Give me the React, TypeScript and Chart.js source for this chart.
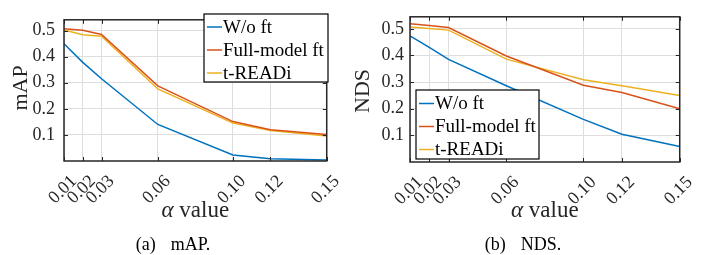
import React, { useEffect, useRef } from "react";
import { Chart, registerables } from "chart.js";

Chart.register(...registerables);

// ---------- data ----------
const alphaValues = [0.01, 0.02, 0.03, 0.06, 0.1, 0.12, 0.15];
const alphaTickLabels = ["0.01", "0.02", "0.03", "0.06", "0.10", "0.12", "0.15"];
const yTickValues = [0.1, 0.2, 0.3, 0.4, 0.5];
const yTickLabels = ["0.1", "0.2", "0.3", "0.4", "0.5"];
const seriesNames = ["W/o ft", "Full-model ft", "t-READi"];

const mapWoFt = [0.449, 0.378, 0.315, 0.14, 0.023, 0.009, 0.004];
const mapFullModel = [0.507, 0.501, 0.485, 0.288, 0.151, 0.12, 0.102];
const mapTReadi = [0.502, 0.484, 0.478, 0.276, 0.145, 0.117, 0.096];

const ndsWoFt = [0.473, 0.43, 0.385, 0.286, 0.16, 0.104, 0.058];
const ndsFullModel = [0.519, 0.512, 0.505, 0.398, 0.288, 0.261, 0.2];
const ndsTReadi = [0.507, 0.501, 0.495, 0.386, 0.309, 0.286, 0.25];

// ---------- style ----------
const COLORS = ["#0072BD", "#D95319", "#EDB120"];
const FONT = "'Liberation Serif', 'Times New Roman', serif";
const AXIS = "#262626";
const GRID = "#dedede";

type Panel = {
  left: number;
  width: number;
  height: number;
  area: { left: number; right: number; top: number; bottom: number };
  yMax: number;
  yTitle: string;
  yTitleX: number;
  yTitleY: number;
  yTickPad: number;
  legend: { x: number; y: number; w: number; h: number; rows: number[] };
  captionLabel: string;
  captionText: string;
  captionCenter: number;
  series: number[][];
};

const panels: Panel[] = [
  {
    left: 0,
    width: 352,
    height: 255,
    area: { left: 64, right: 335, top: 13, bottom: 161 },
    yMax: 0.541,
    yTitle: "mAP",
    yTitleX: 21,
    yTitleY: 88,
    yTickPad: 9,
    legend: { x: 204, y: 14, w: 124, h: 68, rows: [27, 50, 73] },
    captionLabel: "(a)",
    captionText: "mAP.",
    captionCenter: 173,
    series: [mapWoFt, mapFullModel, mapTReadi],
  },
  {
    left: 352,
    width: 353,
    height: 255,
    area: { left: 58, right: 328, top: 13, bottom: 162 },
    yMax: 0.545,
    yTitle: "NDS",
    yTitleX: 11,
    yTitleY: 91,
    yTickPad: 6,
    legend: { x: 64, y: 90, w: 123, h: 69, rows: [103.5, 126.5, 149.5] },
    captionLabel: "(b)",
    captionText: "NDS.",
    captionCenter: 171,
    series: [ndsWoFt, ndsFullModel, ndsTReadi],
  },
];

const matlabPlugin = {
  id: "matlab",
  afterDraw(chart: any, _args: any, opts: any) {
    const p: Panel = opts.panel;
    const { ctx, chartArea: a } = chart;
    const xs = chart.scales.x;
    const ys = chart.scales.y;
    ctx.save();

    const line = (x1: number, y1: number, x2: number, y2: number) => {
      ctx.beginPath();
      ctx.moveTo(x1, y1);
      ctx.lineTo(x2, y2);
      ctx.stroke();
    };

    // inside tick marks
    ctx.strokeStyle = AXIS;
    ctx.lineWidth = 1;
    const tl = 4;
    for (const v of alphaValues) {
      const px = Math.round(xs.getPixelForValue(v)) + 0.5;
      line(px, a.bottom, px, a.bottom - tl);
      line(px, a.top, px, a.top + tl);
    }
    for (const v of yTickValues) {
      const py = Math.round(ys.getPixelForValue(v)) + 0.5;
      line(a.left, py, a.left + tl, py);
      line(a.right, py, a.right - tl, py);
    }

    // box
    ctx.lineWidth = 1.5;
    ctx.strokeRect(a.left, a.top, a.right - a.left, a.bottom - a.top);

    // legend
    const L = p.legend;
    ctx.fillStyle = "#ffffff";
    ctx.fillRect(L.x, L.y, L.w, L.h);
    ctx.strokeStyle = "#000000";
    ctx.lineWidth = 1.2;
    ctx.strokeRect(L.x, L.y, L.w, L.h);
    ctx.font = `19px ${FONT}`;
    ctx.textBaseline = "middle";
    ctx.textAlign = "left";
    seriesNames.forEach((name, i) => {
      const ry = L.rows[i];
      ctx.strokeStyle = COLORS[i];
      ctx.lineWidth = 1.5;
      line(L.x + 3, ry, L.x + 18, ry);
      ctx.fillStyle = "#000000";
      ctx.fillText(name, L.x + 19, ry + 1);
    });

    // y title
    ctx.save();
    ctx.translate(p.yTitleX, p.yTitleY);
    ctx.rotate(-Math.PI / 2);
    ctx.font = `22px ${FONT}`;
    ctx.textAlign = "center";
    ctx.textBaseline = "middle";
    ctx.fillStyle = AXIS;
    ctx.fillText(p.yTitle, 0, 0);
    ctx.restore();

    // x title: italic alpha + " value"
    const cx = (a.left + a.right) / 2;
    const ty = 211;
    const fs = 23;
    ctx.fillStyle = AXIS;
    ctx.textBaseline = "middle";
    ctx.font = `italic ${fs}px ${FONT}`;
    const wA = ctx.measureText("α").width;
    ctx.font = `${fs}px ${FONT}`;
    const wV = ctx.measureText(" value").width;
    const sx = cx - (wA + wV) / 2;
    ctx.textAlign = "left";
    ctx.font = `italic ${fs}px ${FONT}`;
    ctx.fillText("α", sx, ty);
    ctx.font = `${fs}px ${FONT}`;
    ctx.fillText(" value", sx + wA, ty);

    // caption
    ctx.font = `18px ${FONT}`;
    ctx.fillStyle = "#000000";
    const w1 = ctx.measureText(p.captionLabel).width;
    const w2 = ctx.measureText(p.captionText).width;
    const gap = 15;
    const cs = p.captionCenter - (w1 + gap + w2) / 2;
    ctx.fillText(p.captionLabel, cs, 245);
    ctx.fillText(p.captionText, cs + w1 + gap, 245);

    ctx.restore();
  },
};

function PanelChart({ p }: { p: Panel }) {
  const ref = useRef<HTMLCanvasElement>(null);
  useEffect(() => {
    if (!ref.current) return;
    const chart = new Chart(ref.current, {
      type: "line",
      data: {
        datasets: seriesNames.map((name, i) => ({
          label: name,
          data: alphaValues.map((x, j) => ({ x, y: p.series[i][j] })),
          borderColor: COLORS[i],
          backgroundColor: COLORS[i],
          borderWidth: 1.5,
          pointRadius: 0,
          tension: 0,
          fill: false,
        })),
      },
      options: {
        responsive: false,
        animation: false,
        devicePixelRatio: 1,
        layout: {
          padding: { left: 0, right: p.width - p.area.right, top: p.area.top, bottom: 0 },
        },
        plugins: {
          legend: { display: false },
          tooltip: { enabled: false },
          matlab: { panel: p },
        } as any,
        scales: {
          x: {
            type: "linear",
            min: 0.01,
            max: 0.15,
            afterBuildTicks: (s: any) => {
              s.ticks = alphaValues.map((v) => ({ value: v }));
            },
            afterFit: (s: any) => {
              s.height = p.height - p.area.bottom;
            },
            ticks: {
              autoSkip: false,
              minRotation: 45,
              maxRotation: 45,
              padding: 10,
              labelOffset: 10,
              color: AXIS,
              font: { family: FONT, size: 18 },
              callback: (_v: any, i: number) => alphaTickLabels[i],
            },
            grid: { color: GRID, lineWidth: 1, drawTicks: false },
            border: { display: false },
          },
          y: {
            min: 0,
            max: p.yMax,
            afterBuildTicks: (s: any) => {
              s.ticks = yTickValues.map((v) => ({ value: v }));
            },
            afterFit: (s: any) => {
              s.width = p.area.left;
            },
            ticks: {
              padding: p.yTickPad,
              color: AXIS,
              font: { family: FONT, size: 18 },
              callback: (_v: any, i: number) => yTickLabels[i],
            },
            grid: { color: GRID, lineWidth: 1, drawTicks: false },
            border: { display: false },
          },
        },
      } as any,
      plugins: [matlabPlugin],
    });
    return () => chart.destroy();
  }, [p]);
  return (
    <canvas
      ref={ref}
      width={p.width}
      height={p.height}
      style={{ position: "absolute", left: p.left, top: 0, width: p.width, height: p.height }}
    />
  );
}

export default function App() {
  return (
    <div
      style={{
        position: "absolute",
        left: 0,
        top: 0,
        width: 705,
        height: 255,
        background: "#ffffff",
        overflow: "hidden",
      }}
    >
      {panels.map((p, i) => (
        <PanelChart key={i} p={p} />
      ))}
    </div>
  );
}
